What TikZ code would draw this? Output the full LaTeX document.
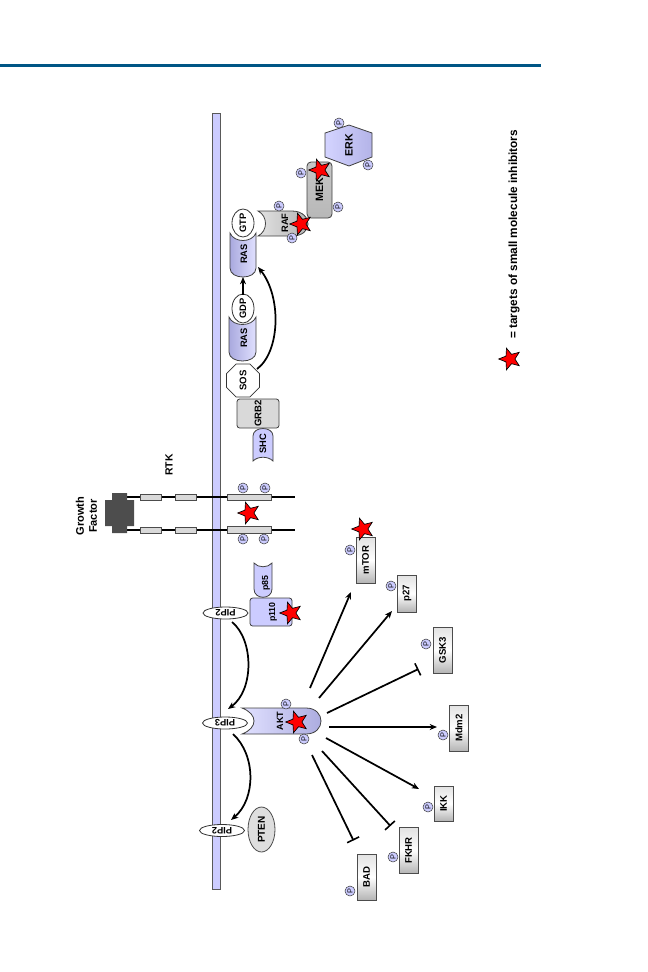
\documentclass[tikz,border=0pt]{standalone}
\usepackage{fontspec}
\setmainfont{Liberation Sans}
\usetikzlibrary{shapes.geometric,arrows.meta}
\definecolor{memb}{HTML}{CCCCFF}
\definecolor{bluedark}{HTML}{A9A9DE}
\definecolor{graylt}{HTML}{E2E2E2}
\definecolor{graydk}{HTML}{B4B4B4}
\definecolor{rule}{HTML}{005685}
\definecolor{dark}{HTML}{4D4D4D}
\tikzset{
  outl/.style={draw=black!75,line width=.6pt},
  blueshape/.style={outl,left color=bluedark,right color=memb!60},
  greyshape/.style={outl,left color=graylt,right color=graydk},
  lab/.style={font=\bfseries\fontsize{#1}{#1}\selectfont,rotate=90,inner sep=0pt},
  lab/.default=7,
  pcirc/.style={circle,draw=black!75,line width=.4pt,fill=memb,minimum size=7.5pt,inner sep=0pt,rotate=90,font=\fontsize{5.5}{5.5}\selectfont},
  redstar/.style={star,star points=5,star point ratio=2.3,fill=red,draw=black,line width=.5pt,minimum size=17pt,inner sep=0pt,rotate=90},
  whiteoval/.style={ellipse,draw=black!80,line width=.6pt,fill=white,inner sep=0pt,font=\bfseries\fontsize{7}{7}\selectfont},
  pipoval/.style={whiteoval,rotate=180,minimum width=33.75pt,minimum height=9pt},
  targetbox/.style={draw=black!70,line width=.6pt,rotate=90,inner sep=0pt,minimum width=34.5pt,minimum height=14.25pt,top color=graylt,bottom color=graydk,middle color=white,font=\bfseries\fontsize{7.2}{7.2}\selectfont},
  linkline/.style={line width=1.3pt,black},
  arr/.style={linkline,-{Stealth[length=5.5pt,width=4.5pt]}},
  inhib/.style={linkline,-{Bar[width=10pt,line width=1.2pt]}},
  rtkchain/.style={line width=1.4pt,black},
  rtkdomain/.style={draw=black!70,line width=.5pt,fill=black!15,rotate=-90,inner sep=0pt}
}
\begin{document}
\begin{tikzpicture}[x=0.75pt,y=-0.75pt]
\useasboundingbox (0,0) rectangle (648,972);
% header rule and membrane
\fill[rule] (0,64) rectangle (541,67);
\draw[draw=black!65,line width=.6pt,fill=memb] (212,113) rectangle (220,889);

% receptor chains and growth factor
\coordinate (rtkTopA) at (127,497);
\coordinate (rtkTopB) at (295,497);
\coordinate (rtkBotA) at (127,530);
\coordinate (rtkBotB) at (295,530);
\draw[rtkchain] (rtkTopA) -- (rtkTopB);
\draw[rtkchain] (rtkBotA) -- (rtkBotB);
\fill[dark] (112,493) -- (127,493) -- (127,500) -- (134,500) -- (134,526) -- (127,526) -- (127,533) -- (112,533) -- (112,526) -- (105,526) -- (105,500) -- (112,500) -- cycle;
\node[rtkdomain,minimum width=4.6pt,minimum height=15.75pt] (d1) at (150.5,497) {};
\node[rtkdomain,minimum width=4.6pt,minimum height=15.75pt] (d2) at (185.5,497) {};
\node[rtkdomain,minimum width=4.6pt,minimum height=15.75pt] (d3) at (150.5,530) {};
\node[rtkdomain,minimum width=4.6pt,minimum height=15.75pt] (d4) at (185.5,530) {};
\node[rtkdomain,minimum width=4.6pt,minimum height=33pt] (d5) at (249,497) {};
\node[rtkdomain,minimum width=4.8pt,minimum height=33pt] (d6) at (249,530) {};

% RAS/RAF pathway shapes
\path[blueshape] (230,233) .. controls (234,243) and (252,243) .. (256,233) -- (256,268) .. controls (256,280) and (230,280) .. (230,268) -- cycle;
\path[blueshape] (229,317) .. controls (233,327) and (252,327) .. (256,317) -- (256,352) .. controls (256,364) and (229,364) .. (229,352) -- cycle;
\path[greyshape] (258,211) -- (292,211) .. controls (303,211) and (308,218) .. (308,224) .. controls (308,230) and (303,236) .. (292,236) -- (258,236) .. controls (268,231) and (268,216) .. (258,211) -- cycle;
\node[outl,rounded corners=3pt,rotate=90,minimum width=42pt,minimum height=18.75pt,inner sep=0pt,top color=black!22,middle color=black!12,bottom color=black!28,font=\bfseries\fontsize{8}{8}\selectfont] (mek) at (319.5,190) {MEK};
\path[outl,left color=memb!85,right color=bluedark!70!memb] (349,125) -- (372,133) -- (372,157) -- (349,166) -- (325,157) -- (325,133) -- cycle;
\node[whiteoval,rotate=90,minimum width=21pt,minimum height=16.5pt] (gtp) at (243,223) {GTP};
\node[whiteoval,rotate=90,minimum width=21.75pt,minimum height=16.5pt] (gdp) at (243,308.5) {GDP};
\node[regular polygon,regular polygon sides=8,draw=black!80,line width=.6pt,fill=white,rotate=90,minimum size=26.8pt,inner sep=0pt,font=\bfseries\fontsize{7.2}{7.2}\selectfont] (sos) at (243,380.5) {SOS};
\path[outl,fill=memb] (253,436) .. controls (253,426) and (273,426) .. (273,436) -- (273,461) .. controls (268,456) and (258,456) .. (253,461) -- cycle;
\node[outl,rounded corners=2pt,fill=black!15,rotate=90,minimum width=21.75pt,minimum height=31.5pt,inner sep=0pt,font=\bfseries\fontsize{7.2}{7.2}\selectfont] (grb2) at (258,413.5) {GRB2};

\node[lab=7] (ras1) at (244,254) {RAS};
\node[lab=7] (ras2) at (244,338) {RAS};
\node[lab=7] (raf) at (285,223) {RAF};
\node[lab=8] (erk) at (349,145.5) {ERK};
\node[lab=7] (shc) at (263,444) {SHC};

\draw[arr] ([shift={(0,-14)}]gdp.center) -- ([shift={(-1,23)}]ras1.center);
\draw[arr] ([shift={(14,-11.5)}]sos.center) .. controls (280,352) and (282,297) .. ([shift={(14,13)}]ras1.center);

% PI3K pathway shapes
\path[outl,fill=memb] (254,563) .. controls (258,568) and (268,568) .. (272,563) -- (272,589) .. controls (272,600) and (254,600) .. (254,589) -- cycle;
\node[outl,rounded corners=2pt,fill=memb,minimum width=31.5pt,minimum height=21pt,inner sep=0pt] (p110box) at (271,612) {};
\path[blueshape,left color=memb!60,right color=bluedark] (242,708) -- (306,708) .. controls (326,708) and (326,734) .. (306,734) -- (242,734) .. controls (258,728) and (258,714) .. (242,708) -- cycle;
\node[ellipse,draw=black!70,line width=.6pt,fill=black!13,rotate=90,minimum width=33.75pt,minimum height=20.25pt,inner sep=0pt,font=\bfseries\fontsize{7.5}{7.5}\selectfont] (pten) at (261.5,829.5) {PTEN};
\node[pipoval] (pipA) at (225.5,613) {PIP2};
\node[pipoval] (pipB) at (225,723) {PIP3};
\node[pipoval] (pipC) at (222,830.5) {PIP2};
\node[lab=6.6] (p85) at (266,583) {p85};
\node[lab=6.6] (p110) at (273,612) {p110};
\node[lab=6.8] (akt) at (280,721) {AKT};

\draw[arr] ([shift={(6.5,9)}]pipA.center) .. controls (254,640) and (254,690) .. ([shift={(3,-14)}]pipB.center);
\draw[arr] ([shift={(8,11)}]pipB.center) .. controls (256,755) and (256,799) .. ([shift={(9,-10.5)}]pipC.center);

% AKT targets
\node[targetbox] (mtor) at (365.5,560) {mTOR};
\node[targetbox,minimum width=27.75pt] (p27) at (407,593.5) {p27};
\node[targetbox] (gsk3) at (442.5,650) {GSK3};
\node[targetbox] (mdm2) at (459,728) {Mdm2};
\node[targetbox,minimum width=26.25pt] (ikk) at (443.5,803.5) {IKK};
\node[targetbox] (fkhr) at (408.5,850.5) {FKHR};
\node[targetbox] (bad) at (366.5,877) {BAD};

\draw[arr] ([shift={(30,-33)}]akt.center) -- ([shift={(-14.5,32)}]mtor.center);
\draw[arr] ([shift={(39,-23)}]akt.center) -- ([shift={(-15,17.5)}]p27.center);
\draw[inhib] ([shift={(47,-8)}]akt.center) -- ([shift={(-24,19)}]gsk3.center);
\draw[arr] ([shift={(49,6)}]akt.center) -- ([shift={(-22,-1)}]mdm2.center);
\draw[arr] ([shift={(46,17)}]akt.center) -- ([shift={(-24.5,-14.5)}]ikk.center);
\draw[inhib] ([shift={(42,30)}]akt.center) -- ([shift={(-18,-24.5)}]fkhr.center);
\draw[inhib] ([shift={(32,34)}]akt.center) -- ([shift={(-13,-36.5)}]bad.center);

% phospho sites
\foreach \nm/\x/\y in {pa/339/123,pb/368/165,pc/301/173,pd/338/207,pe/279/206,pf/292/238,
  pg/243/488,ph/265/488,pi/243/539,pj/264/539,pk/286/704,pl/304/739,
  pm/350/550,pn/391/586,po/426/644,pq/443/735,pr/428/807,ps/393/857,pt/350/891}
  {\node[pcirc] (\nm) at (\x,\y) {P};}

% stars
\node[redstar] (s1) at (320,170) {};
\node[redstar] (s2) at (301,224) {};
\node[redstar] (s3) at (249,513) {};
\node[redstar] (s4) at (291,613) {};
\node[redstar] (s5) at (297,722) {};
\node[redstar] (s6) at (363,529) {};
\node[redstar] (s7) at (510,359) {};

% free labels
\node[lab=7.8] (rtk) at (169,465) {RTK};
\node[lab=8.3,align=center] (gf) at (86.5,516) {Growth\\[1.5pt]Factor};
\node[lab=8.85,anchor=west] (legend) at (514,339) {= targets of small molecule inhibitors};
\end{tikzpicture}
\end{document}
